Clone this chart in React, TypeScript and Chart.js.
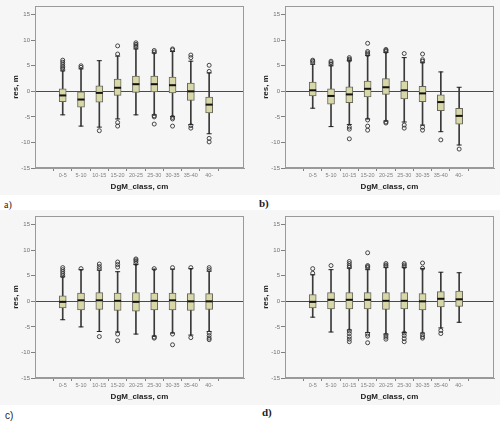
import React, { useEffect, useRef } from "react";
import { Chart, registerables } from "chart.js";
Chart.register(...registerables);

const categories = ["0-5", "5-10", "10-15", "15-20", "20-25", "25-30", "30-35", "35-40", "40-"];
const yTickValues = [-15, -10, -5, 0, 5, 10, 15];
const xTitle = "DgM_class, cm";
const yTitle = "res, m";

// panel a)
const aLow = [-4.6, -6.8, -7.0, -5.4, -4.6, -4.6, -4.9, -6.5, -8.3];
const aQ1 = [-2.0, -3.1, -2.1, -0.8, -0.2, -0.1, -0.3, -1.8, -4.2];
const aMed = [-0.8, -1.6, -0.3, 0.7, 1.4, 1.4, 1.2, 0.0, -2.6];
const aQ3 = [0.5, 0.0, 1.1, 2.4, 3.0, 3.0, 2.8, 1.6, -1.1];
const aHigh = [4.0, 4.4, 6.0, 6.9, 8.3, 7.5, 7.8, 5.9, 3.6];
const aOut = [
  [4.3, 4.6, 4.9, 5.3, 5.7, 6.1],
  [4.7, 5.0],
  [-7.7],
  [7.3, 8.9, -6.1, -6.8],
  [8.6, 8.9, 9.2, 9.5],
  [7.7, 8.0, -4.8, -5.0, -6.4],
  [8.1, 8.3, -5.1, -5.4, -6.8],
  [6.6, 7.1, -6.7, -7.2],
  [3.9, 5.1, -9.2, -9.9],
];

// panel b)
const bLow = [-3.3, -6.9, -6.5, -5.4, -5.8, -6.0, -6.6, -7.9, -10.5];
const bQ1 = [-0.9, -2.5, -2.2, -1.1, -0.6, -1.5, -2.0, -3.8, -6.4];
const bMed = [0.2, -0.9, -0.6, 0.5, 0.8, 0.2, -0.4, -2.1, -4.8];
const bQ3 = [1.8, 0.5, 0.9, 2.0, 2.5, 2.0, 1.0, -0.7, -3.3];
const bHigh = [5.3, 5.0, 6.0, 7.0, 7.6, 6.6, 5.6, 3.8, 0.8];
const bOut = [
  [5.6, 5.9, 6.1],
  [5.3, 5.6, 5.9],
  [6.1, 6.3, 6.6, -7.0, -7.4, -9.3],
  [7.2, 7.5, 7.8, 9.4, -5.6, -6.8, -7.6],
  [7.8, 8.0, 8.2, -6.0, -6.2],
  [7.4, -6.6, -7.2],
  [5.9, 6.2, 7.3, -7.0, -7.6],
  [-9.5],
  [-11.3],
];

// panel c)
const cLow = [-3.6, -5.0, -5.9, -6.0, -6.4, -6.8, -6.2, -6.6, -5.9];
const cQ1 = [-1.3, -1.7, -1.6, -1.8, -1.9, -1.7, -1.7, -1.8, -1.6];
const cMed = [-0.1, 0.2, 0.2, 0.1, -0.1, 0.1, 0.2, 0.0, 0.0];
const cQ3 = [1.1, 1.6, 1.7, 1.6, 1.7, 1.6, 1.6, 1.5, 1.5];
const cHigh = [4.8, 6.2, 6.1, 5.8, 7.2, 6.3, 6.3, 6.4, 5.9];
const cOut = [
  [5.0, 5.4, 5.8, 6.2, 6.6],
  [6.4],
  [6.4, 6.8, 7.3, -6.9],
  [6.7, 7.2, 7.7, -6.4, -7.7],
  [7.4, 7.8, 8.1, 8.3],
  [6.4, -7.0, -7.2],
  [6.6, -6.4, -8.5],
  [6.6, -7.1],
  [6.2, 6.6, -6.2, -6.7, -7.2, -7.5],
];

// panel d)
const dLow = [-3.1, -6.0, -5.6, -6.1, -6.4, -6.1, -6.2, -5.2, -4.1];
const dQ1 = [-1.3, -1.5, -1.5, -1.5, -1.6, -1.5, -1.7, -1.1, -1.0];
const dMed = [-0.1, 0.3, 0.3, 0.3, 0.1, 0.1, 0.0, 0.5, 0.4];
const dQ3 = [1.3, 1.7, 1.7, 1.7, 1.7, 1.7, 1.5, 1.9, 2.0];
const dHigh = [5.2, 6.2, 6.5, 6.2, 6.6, 6.6, 6.4, 5.7, 5.6];
const dOut = [
  [5.5, 6.4],
  [7.0],
  [6.7, 7.0, 7.4, 7.8, -5.8, -6.3, -6.9, -7.4, -7.9],
  [6.6, 6.8, 7.0, 9.5, -6.4, -6.8, -8.1],
  [6.9, 7.1, 7.4, -6.6, -7.0, -7.4],
  [6.8, 7.1, 7.4, -6.2, -6.7, -7.3, -7.9],
  [6.5, 7.5, -6.5, -6.9, -7.2],
  [-5.7, -6.3],
  [],
];

const framePlugin = {
  id: "frame",
  afterDraw(chart: any) {
    const { ctx, chartArea } = chart;
    const l = Math.round(chartArea.left) + 0.5;
    const t = Math.round(chartArea.top) + 0.5;
    const r = Math.round(chartArea.right) - 0.5;
    const b = Math.round(chartArea.bottom) - 0.5;
    ctx.save();
    ctx.strokeStyle = "#9a9a9a";
    ctx.lineWidth = 1;
    ctx.strokeRect(l, t, r - l, b - t);
    ctx.restore();
  },
};

type PanelProps = {
  low: number[];
  q1: number[];
  med: number[];
  q3: number[];
  high: number[];
  out: number[][];
  left: number;
  top: number;
  label: string;
  labelX: number;
  labelY: number;
  labelStyle: React.CSSProperties;
};

function BoxPanel(p: PanelProps) {
  const ref = useRef<HTMLCanvasElement | null>(null);
  useEffect(() => {
    if (!ref.current) return;
    const idx = categories.map((_, i) => i);
    const outPts: { x: number; y: number }[] = [];
    p.out.forEach((vals, i) => vals.forEach((v) => outPts.push({ x: i, y: v })));
    const chart = new Chart(ref.current, {
      type: "bar",
      data: {
        datasets: [
          {
            type: "line",
            data: outPts,
            showLine: false,
            pointStyle: "circle",
            pointRadius: 2,
            pointBorderWidth: 0.9,
            pointBorderColor: "#333",
            pointBackgroundColor: "rgba(255,255,255,0)",
            order: 0,
          } as any,
          {
            type: "line",
            data: idx.map((i) => ({ x: i, y: p.med[i] })),
            showLine: false,
            pointStyle: "line",
            pointRadius: 3.5,
            pointBorderWidth: 2,
            pointBorderColor: "#111",
            order: 1,
          } as any,
          {
            type: "line",
            data: idx
              .map((i) => ({ x: i, y: p.low[i] }))
              .concat(idx.map((i) => ({ x: i, y: p.high[i] }))),
            showLine: false,
            pointStyle: "line",
            pointRadius: 2.5,
            pointBorderWidth: 1,
            pointBorderColor: "#222",
            order: 2,
          } as any,
          {
            type: "bar",
            data: idx.map((i) => ({ x: i, y: [p.q1[i], p.q3[i]] })),
            backgroundColor: "#d8d7a8",
            borderColor: "#66665a",
            borderWidth: 1,
            borderSkipped: false,
            barThickness: 7,
            grouped: false,
            order: 3,
          } as any,
          {
            type: "bar",
            data: idx.map((i) => ({ x: i, y: [p.low[i], p.high[i]] })),
            backgroundColor: "#3a3a3a",
            borderWidth: 0,
            barThickness: 1,
            grouped: false,
            order: 4,
          } as any,
        ],
      },
      options: {
        animation: false,
        responsive: false,
        events: [],
        layout: { padding: { left: 0, top: 6, right: 4, bottom: 0 } },
        plugins: { legend: { display: false }, tooltip: { enabled: false } },
        scales: {
          x: {
            type: "linear",
            min: -0.88,
            max: 9.27,
            afterBuildTicks: (scale: any) => {
              scale.ticks = categories.map((_, i) => ({ value: i }));
            },
            afterFit: (scale: any) => {
              scale.height = 27;
            },
            ticks: {
              callback: (v: any) => categories[v as number] ?? "",
              autoSkip: false,
              maxRotation: 0,
              minRotation: 0,
              padding: 1,
              color: "#808080",
              font: { family: "Liberation Sans", size: 5.5 },
            },
            grid: { drawOnChartArea: false, tickLength: 3, tickColor: "#808080" },
            border: { color: "#9a9a9a" },
            title: {
              display: true,
              text: xTitle,
              color: "#222",
              font: { family: "Liberation Sans", size: 8, weight: "bold" },
              padding: { top: 0, bottom: 3 },
            },
          },
          y: {
            type: "linear",
            min: -15,
            max: 16.7,
            afterBuildTicks: (scale: any) => {
              scale.ticks = yTickValues.map((v) => ({ value: v }));
            },
            afterFit: (scale: any) => {
              scale.width = 35;
            },
            ticks: {
              padding: 1,
              color: "#707070",
              font: { family: "Liberation Sans", size: 6 },
            },
            grid: {
              drawOnChartArea: true,
              tickLength: 4,
              tickColor: "#808080",
              color: (ctx: any) => (ctx.tick && ctx.tick.value === 0 ? "#4a4a4a" : "rgba(0,0,0,0)"),
              lineWidth: 1,
            },
            border: { color: "#9a9a9a" },
            title: {
              display: true,
              text: yTitle,
              color: "#222",
              font: { family: "Liberation Sans", size: 8, weight: "bold" },
              padding: { top: 11, bottom: 0 },
            },
          },
        },
      } as any,
      plugins: [framePlugin],
    });
    return () => chart.destroy();
  }, []);
  return (
    <>
      <canvas
        ref={ref}
        width={250}
        height={195}
        style={{
          position: "absolute",
          left: p.left,
          top: p.top,
          width: 250,
          height: 195,
          background: "#f6f6f6",
        }}
      />
      <div
        style={{
          position: "absolute",
          left: p.labelX,
          top: p.labelY,
          lineHeight: "12px",
          ...p.labelStyle,
        }}
      >
        {p.label}
      </div>
    </>
  );
}

export default function App() {
  return (
    <div
      style={{
        position: "absolute",
        left: 0,
        top: 0,
        width: 500,
        height: 426,
        background: "#ffffff",
        overflow: "hidden",
      }}
    >
      <BoxPanel low={aLow} q1={aQ1} med={aMed} q3={aQ3} high={aHigh} out={aOut}
        left={0} top={0} label="a)" labelX={4} labelY={199}
        labelStyle={{ fontFamily: "Liberation Serif", fontSize: 10, color: "#222" }} />
      <BoxPanel low={bLow} q1={bQ1} med={bMed} q3={bQ3} high={bHigh} out={bOut}
        left={250} top={0} label="b)" labelX={259} labelY={197}
        labelStyle={{ fontFamily: "Liberation Serif", fontSize: 11, fontWeight: "bold", color: "#222" }} />
      <BoxPanel low={cLow} q1={cQ1} med={cMed} q3={cQ3} high={cHigh} out={cOut}
        left={0} top={210} label="c)" labelX={5} labelY={410}
        labelStyle={{ fontFamily: "Liberation Sans", fontSize: 10, color: "#222" }} />
      <BoxPanel low={dLow} q1={dQ1} med={dMed} q3={dQ3} high={dHigh} out={dOut}
        left={250} top={210} label="d)" labelX={262} labelY={406}
        labelStyle={{ fontFamily: "Liberation Serif", fontSize: 11, fontWeight: "bold", color: "#222" }} />
    </div>
  );
}
